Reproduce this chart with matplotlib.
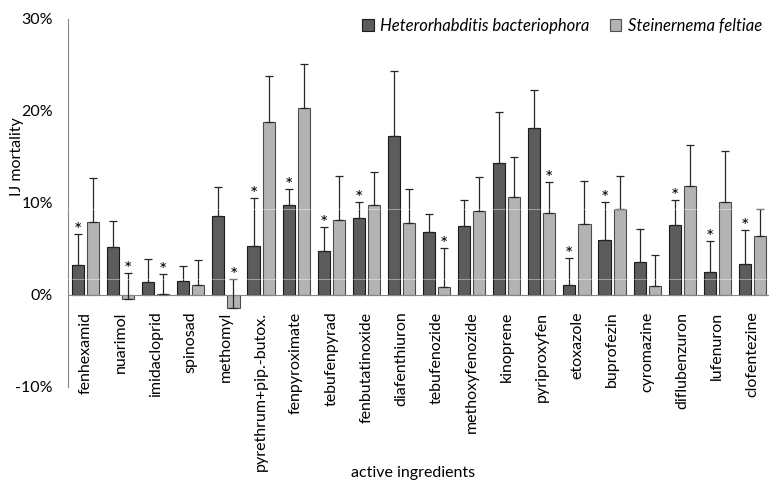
import numpy as np
import matplotlib.pyplot as plt
from matplotlib.patches import Patch
from matplotlib.ticker import FuncFormatter

ingredients = ["fenhexamid", "nuarimol", "imidacloprid", "spinosad", "methomyl",
               "pyrethrum+pip.-butox.", "fenpyroximate", "tebufenpyrad",
               "fenbutatinoxide", "diafenthiuron", "tebufenozide", "methoxyfenozide",
               "kinoprene", "pyriproxyfen", "etoxazole", "buprofezin", "cyromazine",
               "diflubenzuron", "lufenuron", "clofentezine"]

# IJ mortality (%) and upper error
hb = [3.3, 5.25, 1.4, 1.5, 8.55, 5.3, 9.75, 4.75, 8.35, 17.3,
      6.9, 7.5, 14.35, 18.1, 1.1, 6.0, 3.6, 7.65, 2.55, 3.35]
hb_err = [3.3, 2.75, 2.5, 1.65, 3.15, 5.2, 1.8, 2.65, 1.75, 7.0,
          1.9, 2.8, 5.5, 4.15, 2.9, 4.1, 3.55, 2.7, 3.3, 3.7]
sf = [7.9, -0.45, 0.1, 1.05, -1.4, 18.85, 20.35, 8.1, 9.8, 7.85,
      0.85, 9.1, 10.7, 8.9, 7.7, 9.4, 0.95, 11.9, 10.15, 6.4]
sf_err = [4.8, 2.8, 2.15, 2.75, 3.1, 4.95, 4.75, 4.8, 3.55, 3.65,
          4.25, 3.7, 4.25, 3.35, 4.7, 3.5, 3.45, 4.4, 5.45, 2.9]

# significant differences (*)
hb_sig = [0, 5, 6, 7, 8, 14, 15, 17, 18, 19]
sf_sig = [1, 2, 4, 10, 13]

plt.rcParams["font.family"] = "Lato"
fs = 11.5

fig = plt.figure(figsize=(7.69, 4.84), dpi=100)
ax = fig.add_axes([68/769, 1 - 387/484, 702/769, 368/484])

for s in ("top", "right"):
    ax.spines[s].set_visible(False)
ax.spines["bottom"].set_position(("data", 0))
ax.spines["bottom"].set_color("#868686")
ax.spines["left"].set_color("#868686")

x = np.arange(len(ingredients))
w = 0.345
off = 0.215
ekw = dict(ecolor="#262626", elinewidth=0.9, capsize=3.2, capthick=0.9)

ax.bar(x - off, hb, w, color="#5c5c5c", edgecolor="#1a1a1a", linewidth=0.8, zorder=2)
ax.bar(x + off, sf, w, color="#b3b3b3", edgecolor="#4d4d4d", linewidth=0.8, zorder=2)
ax.errorbar(x - off, hb, yerr=[np.zeros(len(hb)), hb_err], fmt="none", zorder=3, **ekw)
ax.errorbar(x + off, sf, yerr=[np.zeros(len(sf)), sf_err], fmt="none", zorder=3, **ekw)

for i in hb_sig:
    ax.annotate("*", (x[i] - off, hb[i] + hb_err[i]), xytext=(0, -1.5),
                textcoords="offset points", ha="center", va="baseline", fontsize=14)
for i in sf_sig:
    ax.annotate("*", (x[i] + off, sf[i] + sf_err[i]), xytext=(0, -1.5),
                textcoords="offset points", ha="center", va="baseline", fontsize=14)

# faint white lines crossing the bars
for yl in (9.35, 1.74):
    ax.axhline(yl, color="white", lw=0.8, alpha=0.4, zorder=4)

ax.set_xlim(-0.5, 19.5)
ax.set_ylim(-10, 30)
ax.set_yticks([-10, 0, 10, 20, 30])
ax.yaxis.set_major_formatter(FuncFormatter(lambda v, p: f"{v:.0f}%"))
ax.set_xticks(x)
ax.set_xticklabels(ingredients, rotation=90, ha="center", va="top")
ax.tick_params(axis="x", length=0, pad=12, labelsize=fs, labelrotation=90)
ax.tick_params(axis="y", length=0, pad=11, labelsize=fs)

fig.text(17/769, 1 - 157/484, "IJ mortality", rotation=90, ha="center", va="center", fontsize=fs)
fig.text(413/769, 1 - 473/484, "active ingredients", ha="center", va="center", fontsize=fs)

handles = [Patch(facecolor="#5c5c5c", edgecolor="#1a1a1a", lw=0.8),
           Patch(facecolor="#b3b3b3", edgecolor="#4d4d4d", lw=0.8)]
ax.legend(handles, ["Heterorhabditis bacteriophora", "Steinernema feltiae"],
          loc="center left", bbox_to_anchor=((362 - 68)/702, (387 - 26)/368),
          ncol=2, frameon=False, borderpad=0, borderaxespad=0,
          handlelength=0.7, handleheight=0.7, handletextpad=0.4,
          columnspacing=1.2, prop={"style": "italic", "size": 12})

fig.savefig("out.png", dpi=100)
